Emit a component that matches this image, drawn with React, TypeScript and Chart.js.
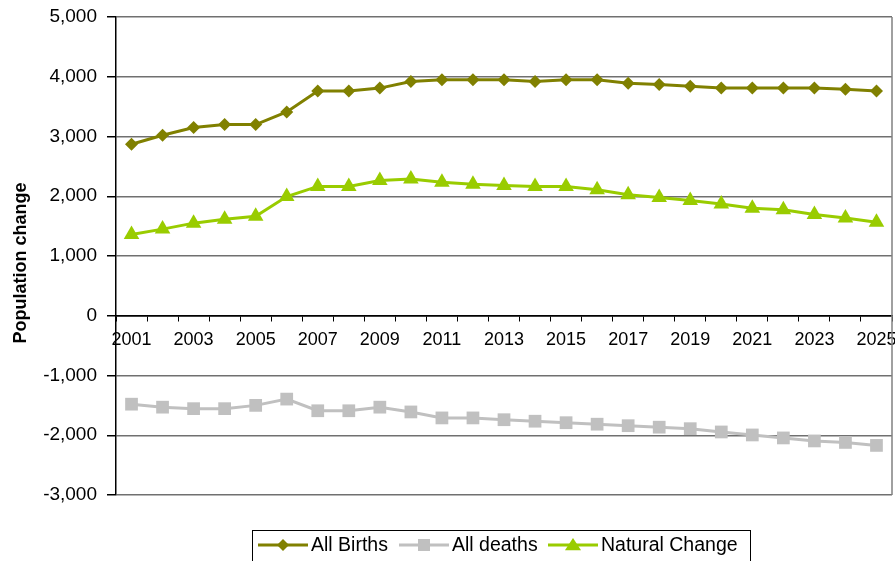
import React, { useEffect, useRef } from "react";
import { Chart, registerables } from "chart.js";

Chart.register(...registerables);

const years = ["2001","2002","2003","2004","2005","2006","2007","2008","2009","2010","2011","2012","2013","2014","2015","2016","2017","2018","2019","2020","2021","2022","2023","2024","2025"];
const allBirths = [2870,3020,3150,3200,3200,3410,3760,3760,3810,3920,3950,3950,3950,3920,3950,3950,3890,3870,3840,3810,3810,3810,3810,3790,3760];
const allDeaths = [-1480,-1530,-1555,-1555,-1500,-1395,-1590,-1590,-1530,-1610,-1710,-1710,-1740,-1765,-1790,-1815,-1840,-1865,-1890,-1945,-1995,-2045,-2095,-2120,-2170];
const naturalChange = [1360,1450,1550,1615,1665,1995,2165,2165,2265,2290,2235,2200,2180,2165,2165,2110,2025,1980,1930,1870,1800,1775,1695,1635,1565];
const yTicks = [-3000,-2000,-1000,0,1000,2000,3000,4000,5000];
const yTitle = "Population change";
const seriesNames = ["All Births", "All deaths", "Natural Change"];

const FONT = "'Liberation Sans', Arial, sans-serif";
const C_BIRTHS = "#808000";
const C_DEATHS = "#C0C0C0";
const C_NATURAL = "#99CC00";

function drawMarker(ctx: CanvasRenderingContext2D, shape: string, x: number, y: number, s: number, color: string) {
  ctx.save();
  ctx.fillStyle = color;
  ctx.beginPath();
  if (shape === "diamond") {
    ctx.moveTo(x, y - s);
    ctx.lineTo(x + s, y);
    ctx.lineTo(x, y + s);
    ctx.lineTo(x - s, y);
  } else if (shape === "square") {
    ctx.rect(x - s, y - s, 2 * s, 2 * s);
  } else {
    ctx.moveTo(x, y - s);
    ctx.lineTo(x + s * 1.15, y + s * 0.75);
    ctx.lineTo(x - s * 1.15, y + s * 0.75);
  }
  ctx.closePath();
  ctx.fill();
  ctx.restore();
}

const decorPlugin = {
  id: "decor",
  afterDraw(chart: any) {
    const ctx: CanvasRenderingContext2D = chart.ctx;
    const a = chart.chartArea;
    ctx.save();
    // right border of plot
    ctx.strokeStyle = "#808080";
    ctx.lineWidth = 1.5;
    ctx.beginPath();
    ctx.moveTo(a.right, a.top);
    ctx.lineTo(a.right, a.bottom);
    ctx.stroke();

    // y axis title
    ctx.save();
    ctx.translate(21, (a.top + a.bottom) / 2 + 7);
    ctx.rotate(-Math.PI / 2);
    ctx.font = `bold 18px ${FONT}`;
    ctx.fillStyle = "#000";
    ctx.textAlign = "center";
    ctx.textBaseline = "middle";
    ctx.fillText(yTitle, 0, 0);
    ctx.restore();

    // legend
    const colors = [C_BIRTHS, C_DEATHS, C_NATURAL];
    const shapes = ["diamond", "square", "triangle"];
    const sizes = [6, 6, 7];
    const starts = [258, 399, 548];
    ctx.font = `19.5px ${FONT}`;
    ctx.textBaseline = "middle";
    ctx.textAlign = "left";
    const ly = 545;
    for (let i = 0; i < seriesNames.length; i++) {
      const x = starts[i];
      ctx.strokeStyle = colors[i];
      ctx.lineWidth = 3;
      ctx.beginPath();
      ctx.moveTo(x, ly);
      ctx.lineTo(x + 50, ly);
      ctx.stroke();
      drawMarker(ctx, shapes[i], x + 25, ly, sizes[i], colors[i]);
      ctx.fillStyle = "#000";
      ctx.fillText(seriesNames[i], x + 53, ly + 1);
    }
    ctx.strokeStyle = "#000";
    ctx.lineWidth = 1;
    ctx.strokeRect(252.5, 530.5, 498, 40);
    ctx.restore();
  },
};

export default function App() {
  const ref = useRef<HTMLCanvasElement | null>(null);
  useEffect(() => {
    if (!ref.current) return;
    const chart = new Chart(ref.current, {
      type: "line",
      data: {
        labels: years,
        datasets: [
          {
            label: seriesNames[0],
            data: allBirths,
            borderColor: C_BIRTHS,
            backgroundColor: C_BIRTHS,
            borderWidth: 3,
            pointStyle: "rectRot",
            pointRadius: 6.5,
            pointBorderWidth: 0,
            tension: 0,
          },
          {
            label: seriesNames[1],
            data: allDeaths,
            borderColor: C_DEATHS,
            backgroundColor: C_DEATHS,
            borderWidth: 3,
            pointStyle: "rect",
            pointRadius: 9,
            pointBorderWidth: 0,
            tension: 0,
          },
          {
            label: seriesNames[2],
            data: naturalChange,
            borderColor: C_NATURAL,
            backgroundColor: C_NATURAL,
            borderWidth: 3,
            pointStyle: "triangle",
            pointRadius: 9,
            pointBorderWidth: 0,
            tension: 0,
          },
        ],
      },
      options: {
        animation: false,
        responsive: false,
        events: [],
        layout: { autoPadding: false, padding: { top: 17, right: 3, bottom: 66, left: 0 } },
        plugins: {
          legend: { display: false },
          tooltip: { enabled: false },
          title: { display: false },
        },
        scales: {
          x: {
            type: "category",
            position: { y: 0 } as any,
            offset: true,
            afterFit: (scale: any) => {
              scale.paddingLeft = 0;
              scale.paddingRight = 0;
              scale.getPadding = () => ({ left: 0, top: 0, right: 0, bottom: 0 });
            },
            grid: {
              display: true,
              drawOnChartArea: false,
              drawTicks: true,
              tickLength: 5,
              offset: true,
              color: "#000",
              tickColor: "#000",
            },
            border: { display: true, color: "#000", width: 1.5 },
            ticks: {
              autoSkip: false,
              maxRotation: 0,
              minRotation: 0,
              padding: 8,
              color: "#000",
              font: { family: FONT, size: 18 },
              callback: (_v: any, i: number) => (i % 2 === 0 ? years[i] : ""),
            },
          },
          y: {
            min: yTicks[0],
            max: yTicks[yTicks.length - 1],
            afterFit: (scale: any) => {
              scale.width = 116;
              scale.getPadding = () => ({ left: 0, top: 0, right: 0, bottom: 0 });
            },
            afterBuildTicks: (scale: any) => {
              scale.ticks = yTicks.map((v) => ({ value: v }));
            },
            grid: {
              color: (c: any) => (c.tick && c.tick.value === 0 ? "#000" : "#707070"),
              lineWidth: 1.5,
              drawTicks: true,
              tickLength: 9,
              tickColor: "#000",
            },
            border: { display: true, color: "#000", width: 1.5 },
            ticks: {
              padding: 10,
              color: "#000",
              font: { family: FONT, size: 19 },
              callback: (v: any) => Number(v).toLocaleString("en-US"),
            },
          },
        },
      },
      plugins: [decorPlugin],
    });
    return () => chart.destroy();
  }, []);
  return (
    <div style={{ position: "absolute", left: 0, top: 0, width: 895, height: 561, background: "#fff" }}>
      <canvas ref={ref} width={895} height={561} style={{ display: "block" }} />
    </div>
  );
}
